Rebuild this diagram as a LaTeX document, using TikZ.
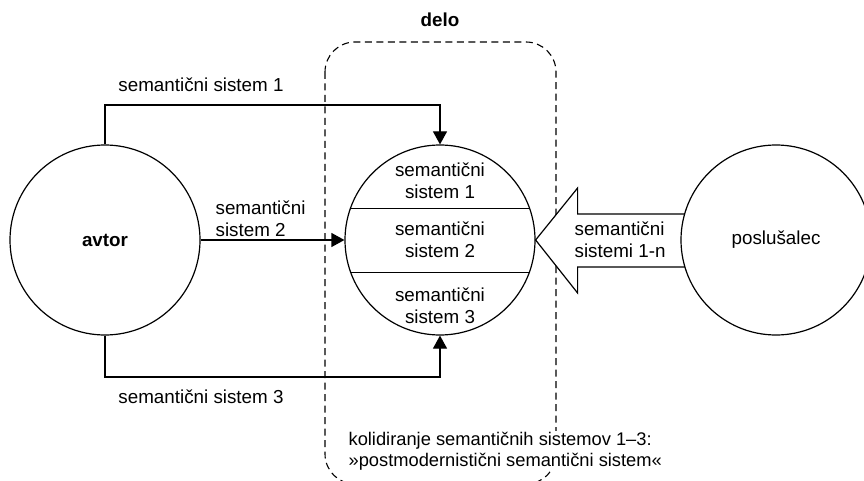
\documentclass[tikz,border=0pt]{standalone}
\usepackage{fontspec}
\setmainfont{Liberation Sans}
\usetikzlibrary{arrows.meta,positioning,calc}

\begin{document}
\begin{tikzpicture}[x=1pt, y=-1pt, line width=1.2pt,
	oznaka/.style = {font=\fontsize{18.8}{22}\selectfont, align=center, inner sep=1pt},
	krog/.style = {circle, draw, minimum size=190pt, inner sep=0pt, font=\fontsize{18.8}{22}\selectfont},
	puscica/.style = {-{Triangle[length=13pt,width=14pt]}}]
	\useasboundingbox (0,0) rectangle (864,481);
	\draw [line width=1.1pt, dash pattern=on 7pt off 4.5pt, rounded corners=30pt] (325,42) rectangle (556,484);
	\node [oznaka, font=\fontsize{18.8}{22}\selectfont\bfseries] (naslov) at (440,20) {delo};
	\node [krog] (avtor) at (105,240) {\bfseries avtor};
	\node [krog, fill=white] (delo) at (440,240) {};
	\draw (delo.161) -- (delo.19);
	\draw (delo.200) -- (delo.-20);
	\node [oznaka] (sistem1) at (440,181) {semantični\\sistem 1};
	\node [oznaka] (sistem2) at (440,240) {semantični\\sistem 2};
	\node [oznaka] (sistem3) at (440,306) {semantični\\sistem 3};
	\coordinate (zgoraj) at (0,105);
	\coordinate (spodaj) at (0,377);
	\draw [puscica] (avtor.north) -- (avtor.north |- zgoraj) -| (delo.north);
	\draw [puscica] (avtor.east) -- (delo.west);
	\draw [puscica] (avtor.south) -- (avtor.south |- spodaj) -| (delo.south);
	\node [oznaka] (oznaka1) at (201,85) {semantični sistem 1};
	\node [oznaka, align=left, anchor=west] (oznaka2) at (214,219) {semantični\\sistem 2};
	\node [oznaka] (oznaka3) at (201,397) {semantični sistem 3};
	\draw [fill=white, line join=miter] (delo.east) -- ++(42,-52) -- ++(0,26) -- ++(160,0) -- ++(0,53) -- ++(-160,0) -- ++(0,26) -- cycle;
	\node [krog, fill=white] (poslusalec) at (776,240) {poslušalec};
	\node [oznaka, align=left, anchor=west] (oznaka4) at (573,240) {semantični\\sistemi 1-n};
	\node [oznaka, font=\fontsize{18.3}{21}\selectfont, align=left, anchor=west, fill=white] (kolizija) at (347,451) {kolidiranje semantičnih sistemov 1–3:\\»postmodernistični semantični sistem«};
\end{tikzpicture}
\end{document}
